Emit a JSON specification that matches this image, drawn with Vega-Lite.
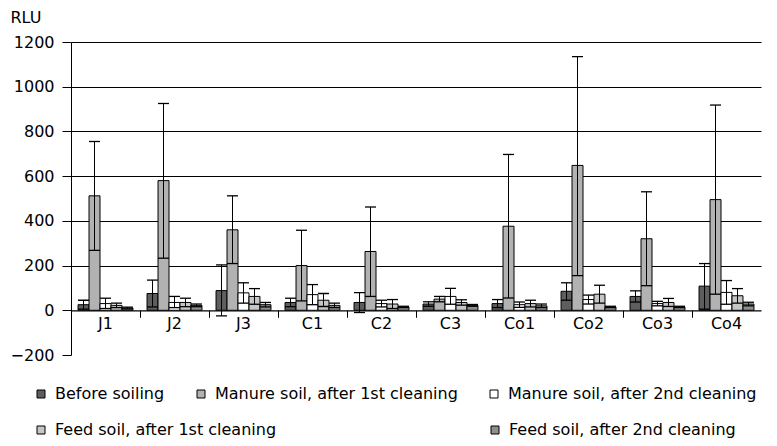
{
  "$schema": "https://vega.github.io/schema/vega-lite/v6.json",
  "width": 690,
  "height": 313,
  "autosize": {"type": "none"},
  "padding": {"left": 71, "top": 42, "right": 16, "bottom": 91},
  "config": {
    "view": {"stroke": null},
    "font": "DejaVu Sans",
    "axis": {"labelFont": "DejaVu Sans", "titleFont": "DejaVu Sans", "labelColor": "black", "titleColor": "black"},
    "legend": {
      "orient": "none",
      "direction": "horizontal",
      "title": null,
      "padding": 0,
      "symbolType": "square",
      "symbolSize": 64,
      "symbolStrokeColor": "black",
      "symbolStrokeWidth": 1,
      "symbolOpacity": 1,
      "labelFont": "DejaVu Sans",
      "labelFontSize": 16,
      "labelColor": "black",
      "labelLimit": 400,
      "labelOffset": 6
    }
  },
  "data": {
    "values": [
      {"group": "J1", "series": "Before soiling", "mean": 25, "lo": 5, "hi": 45},
      {"group": "J1", "series": "Manure soil, after 1st cleaning", "mean": 512, "lo": 268, "hi": 755},
      {"group": "J1", "series": "Manure soil, after 2nd cleaning", "mean": 30, "lo": 8, "hi": 54},
      {"group": "J1", "series": "Feed soil, after 1st cleaning", "mean": 22, "lo": 12, "hi": 32},
      {"group": "J1", "series": "Feed soil, after 2nd cleaning", "mean": 10, "lo": 6, "hi": 14},
      {"group": "J2", "series": "Before soiling", "mean": 75, "lo": 15, "hi": 135},
      {"group": "J2", "series": "Manure soil, after 1st cleaning", "mean": 580, "lo": 233, "hi": 925},
      {"group": "J2", "series": "Manure soil, after 2nd cleaning", "mean": 35, "lo": 12, "hi": 62},
      {"group": "J2", "series": "Feed soil, after 1st cleaning", "mean": 35, "lo": 16, "hi": 54},
      {"group": "J2", "series": "Feed soil, after 2nd cleaning", "mean": 22, "lo": 16, "hi": 28},
      {"group": "J3", "series": "Before soiling", "mean": 88, "lo": -25, "hi": 203},
      {"group": "J3", "series": "Manure soil, after 1st cleaning", "mean": 360, "lo": 209, "hi": 512},
      {"group": "J3", "series": "Manure soil, after 2nd cleaning", "mean": 78, "lo": 32, "hi": 123},
      {"group": "J3", "series": "Feed soil, after 1st cleaning", "mean": 62, "lo": 27, "hi": 97},
      {"group": "J3", "series": "Feed soil, after 2nd cleaning", "mean": 25, "lo": 15, "hi": 35},
      {"group": "C1", "series": "Before soiling", "mean": 35, "lo": 16, "hi": 54},
      {"group": "C1", "series": "Manure soil, after 1st cleaning", "mean": 200, "lo": 42, "hi": 358},
      {"group": "C1", "series": "Manure soil, after 2nd cleaning", "mean": 70, "lo": 25, "hi": 115},
      {"group": "C1", "series": "Feed soil, after 1st cleaning", "mean": 45, "lo": 17, "hi": 75},
      {"group": "C1", "series": "Feed soil, after 2nd cleaning", "mean": 22, "lo": 12, "hi": 32},
      {"group": "C2", "series": "Before soiling", "mean": 35, "lo": -10, "hi": 79},
      {"group": "C2", "series": "Manure soil, after 1st cleaning", "mean": 263, "lo": 62, "hi": 462},
      {"group": "C2", "series": "Manure soil, after 2nd cleaning", "mean": 30, "lo": 15, "hi": 45},
      {"group": "C2", "series": "Feed soil, after 1st cleaning", "mean": 28, "lo": 8, "hi": 48},
      {"group": "C2", "series": "Feed soil, after 2nd cleaning", "mean": 15, "lo": 12, "hi": 18},
      {"group": "C3", "series": "Before soiling", "mean": 28, "lo": 18, "hi": 38},
      {"group": "C3", "series": "Manure soil, after 1st cleaning", "mean": 50, "lo": 38, "hi": 62},
      {"group": "C3", "series": "Manure soil, after 2nd cleaning", "mean": 62, "lo": 27, "hi": 98},
      {"group": "C3", "series": "Feed soil, after 1st cleaning", "mean": 35, "lo": 23, "hi": 47},
      {"group": "C3", "series": "Feed soil, after 2nd cleaning", "mean": 22, "lo": 18, "hi": 26},
      {"group": "Co1", "series": "Before soiling", "mean": 30, "lo": 12, "hi": 48},
      {"group": "Co1", "series": "Manure soil, after 1st cleaning", "mean": 376, "lo": 55, "hi": 697},
      {"group": "Co1", "series": "Manure soil, after 2nd cleaning", "mean": 25, "lo": 13, "hi": 37},
      {"group": "Co1", "series": "Feed soil, after 1st cleaning", "mean": 30, "lo": 15, "hi": 45},
      {"group": "Co1", "series": "Feed soil, after 2nd cleaning", "mean": 20, "lo": 12, "hi": 28},
      {"group": "Co2", "series": "Before soiling", "mean": 85, "lo": 45, "hi": 123},
      {"group": "Co2", "series": "Manure soil, after 1st cleaning", "mean": 648, "lo": 155, "hi": 1135},
      {"group": "Co2", "series": "Manure soil, after 2nd cleaning", "mean": 48, "lo": 28, "hi": 68},
      {"group": "Co2", "series": "Feed soil, after 1st cleaning", "mean": 72, "lo": 32, "hi": 112},
      {"group": "Co2", "series": "Feed soil, after 2nd cleaning", "mean": 15, "lo": 12, "hi": 18},
      {"group": "Co3", "series": "Before soiling", "mean": 62, "lo": 37, "hi": 87},
      {"group": "Co3", "series": "Manure soil, after 1st cleaning", "mean": 320, "lo": 110, "hi": 530},
      {"group": "Co3", "series": "Manure soil, after 2nd cleaning", "mean": 30, "lo": 20, "hi": 40},
      {"group": "Co3", "series": "Feed soil, after 1st cleaning", "mean": 35, "lo": 17, "hi": 53},
      {"group": "Co3", "series": "Feed soil, after 2nd cleaning", "mean": 15, "lo": 12, "hi": 18},
      {"group": "Co4", "series": "Before soiling", "mean": 108, "lo": 5, "hi": 209},
      {"group": "Co4", "series": "Manure soil, after 1st cleaning", "mean": 495, "lo": 72, "hi": 918},
      {"group": "Co4", "series": "Manure soil, after 2nd cleaning", "mean": 80, "lo": 27, "hi": 133},
      {"group": "Co4", "series": "Feed soil, after 1st cleaning", "mean": 65, "lo": 32, "hi": 97},
      {"group": "Co4", "series": "Feed soil, after 2nd cleaning", "mean": 28, "lo": 20, "hi": 36}
    ]
  },
  "encoding": {
    "x": {
      "field": "group",
      "type": "nominal",
      "sort": ["J1", "J2", "J3", "C1", "C2", "C3", "Co1", "Co2", "Co3", "Co4"],
      "scale": {"paddingInner": 0, "paddingOuter": 0},
      "axis": {
        "title": null,
        "orient": "bottom",
        "offset": -44.7,
        "labelAngle": 0,
        "labelFontSize": 16,
        "labelPadding": -2,
        "bandPosition": 0,
        "tickSize": 7,
        "tickColor": "black",
        "domainColor": "black",
        "domainWidth": 1.2,
        "grid": false
      }
    },
    "xOffset": {
      "field": "series",
      "type": "nominal",
      "scale": {
        "domain": ["Before soiling", "Manure soil, after 1st cleaning", "Manure soil, after 2nd cleaning", "Feed soil, after 1st cleaning", "Feed soil, after 2nd cleaning"],
        "paddingInner": 0,
        "paddingOuter": 0.64
      }
    }
  },
  "layer": [
    {
      "transform": [{"filter": {"field": "series", "oneOf": ["Before soiling", "Manure soil, after 1st cleaning", "Manure soil, after 2nd cleaning"]}}],
      "mark": {"type": "bar", "stroke": "black", "strokeWidth": 1, "opacity": 1},
      "encoding": {
        "y": {
          "field": "mean",
          "type": "quantitative",
          "title": "RLU",
          "scale": {"domain": [-200, 1200], "nice": false, "zero": false},
          "axis": {
            "values": [-200, 0, 200, 400, 600, 800, 1000, 1200],
            "format": "d",
            "labelFontSize": 16,
            "labelPadding": 8,
            "tickSize": 9,
            "tickColor": "black",
            "domainColor": "black",
            "grid": true,
            "gridColor": "black",
            "gridWidth": 1.2,
            "gridOpacity": {"condition": {"test": "datum.value <= 0", "value": 0}, "value": 1},
            "titleAngle": 0,
            "titleX": -61,
            "titleY": -25,
            "titleAlign": "left",
            "titleBaseline": "middle",
            "titleFontSize": 16,
            "titleFontWeight": "normal"
          }
        },
        "fill": {
          "field": "series",
          "type": "nominal",
          "scale": {
            "domain": ["Before soiling", "Manure soil, after 1st cleaning", "Manure soil, after 2nd cleaning"],
            "range": ["#5e5e5e", "#b2b2b2", "#ffffff"]
          },
          "legend": {
            "legendX": -38,
            "legendY": 344,
            "columns": 3,
            "columnPadding": 28
          }
        }
      }
    },
    {
      "transform": [{"filter": {"field": "series", "oneOf": ["Feed soil, after 1st cleaning", "Feed soil, after 2nd cleaning"]}}],
      "mark": {"type": "bar", "stroke": "black", "strokeWidth": 1, "opacity": 1},
      "encoding": {
        "y": {"field": "mean", "type": "quantitative", "title": "RLU"},
        "color": {
          "field": "series",
          "type": "nominal",
          "scale": {
            "domain": ["Feed soil, after 1st cleaning", "Feed soil, after 2nd cleaning"],
            "range": ["#c6c6c6", "#8e8e8e"]
          },
          "legend": {
            "legendX": -38,
            "legendY": 380,
            "columns": 2,
            "columnPadding": 210
          }
        }
      }
    },
    {
      "mark": {"type": "rule", "color": "black", "strokeWidth": 1},
      "encoding": {
        "y": {"field": "lo", "type": "quantitative", "title": "RLU"},
        "y2": {"field": "hi"}
      }
    },
    {
      "mark": {"type": "tick", "color": "black", "size": 11, "thickness": 1.3, "opacity": 1},
      "encoding": {"y": {"field": "lo", "type": "quantitative", "title": "RLU"}}
    },
    {
      "mark": {"type": "tick", "color": "black", "size": 11, "thickness": 1.3, "opacity": 1},
      "encoding": {"y": {"field": "hi", "type": "quantitative", "title": "RLU"}}
    }
  ]
}
